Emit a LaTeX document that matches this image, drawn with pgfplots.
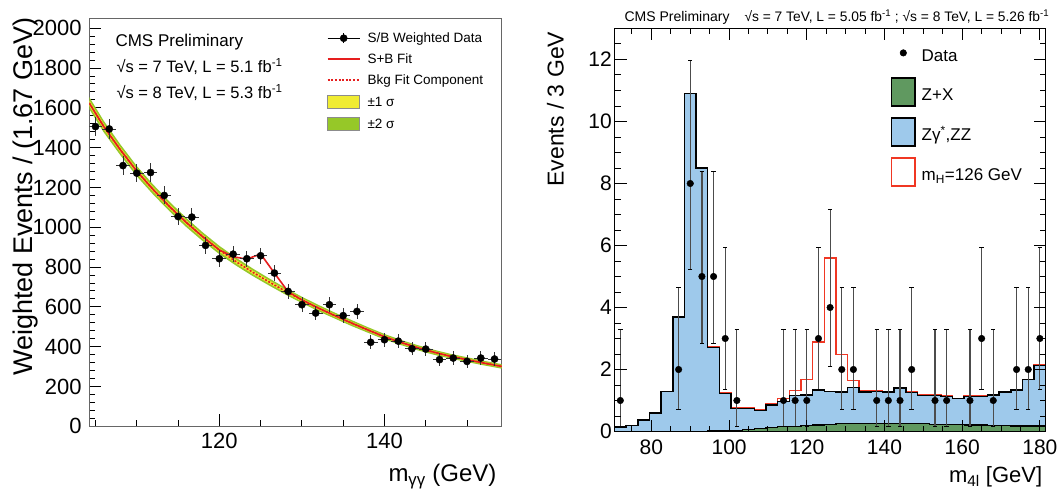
\documentclass[border=0pt]{standalone}
\usepackage{fontspec}
\setmainfont{Liberation Sans}
\usepackage{pgfplots}
\usepackage{pgfplotstable}
\pgfplotsset{compat=1.18}

\definecolor{bandone}{RGB}{240,236,50}
\definecolor{bandtwo}{RGB}{150,200,40}
\definecolor{fitred}{RGB}{230,30,30}
\definecolor{zzblue}{RGB}{158,201,235}
\definecolor{zxgreen}{RGB}{96,153,96}
\definecolor{hred}{RGB}{240,55,35}

% diphoton: fitted background component
\pgfplotstableread{
x g
104.25 1624
106 1506
108 1390
110 1282
112 1189
114 1103
116 1024
118 952
120 886
122 828
124 775
126 726
128 679
130 635
132 594
134 556
136 519
138 484
140 450
142 421
144 395
146 372
148 352
150 335
152 318
154.2 301
}\bkg

% diphoton: S/B weighted data
\pgfplotstableread{
x y ey
105.00 1506 48
106.67 1494 48
108.33 1310 48
110.00 1272 47
111.67 1275 46
113.33 1160 45
115.00 1054 44
116.67 1051 44
118.33 909 43
120.00 842 42
121.67 865 41
123.33 842 40
125.00 857 40
126.67 770 39
128.33 678 38
130.00 611 38
131.67 569 37
133.33 611 37
135.00 556 36
136.67 577 36
138.33 422 35
140.00 435 35
141.67 428 34
143.33 390 34
145.00 388 34
146.67 335 33
148.33 343 33
150.00 326 33
151.67 343 33
153.33 338 33
}\ggdata

% four-lepton: stacked histogram, bin low edges
\pgfplotstableread{
x tot sig zx
70.5 0.15 0.15 0.005
73.5 0.19 0.19 0.005
76.5 0.37 0.37 0.005
79.5 0.60 0.60 0.005
82.5 1.29 1.29 0.005
85.5 3.70 3.70 0.01
88.5 10.90 10.90 0.01
91.5 8.50 8.50 0.01
94.5 2.71 2.72 0.02
97.5 1.23 1.25 0.02
100.5 0.75 0.78 0.04
103.5 0.75 0.77 0.06
106.5 0.67 0.70 0.09
109.5 0.86 0.91 0.12
112.5 0.97 1.07 0.15
115.5 1.16 1.32 0.17
118.5 1.18 1.67 0.19
121.5 1.34 2.88 0.21
124.5 1.29 5.60 0.23
127.5 1.27 2.48 0.25
130.5 1.42 1.65 0.26
133.5 1.27 1.32 0.27
136.5 1.29 1.32 0.27
139.5 1.27 1.29 0.27
142.5 1.40 1.41 0.26
145.5 1.26 1.28 0.26
148.5 1.16 1.17 0.25
151.5 1.16 1.17 0.23
154.5 1.13 1.14 0.22
157.5 1.06 1.07 0.22
160.5 1.13 1.16 0.21
163.5 1.13 1.14 0.21
166.5 1.18 1.19 0.20
169.5 1.27 1.28 0.19
172.5 1.34 1.35 0.18
175.5 1.67 1.68 0.18
178.5 2.13 2.14 0.18
181.5 2.13 2.14 0.18
}\hist

% four-lepton: data with Poisson errors
\pgfplotstableread{
x y em ep
72 1 0.83 2.30
87 2 1.29 2.64
90 8 2.77 3.98
93 5 2.16 3.38
96 5 2.16 3.38
99 3 1.63 2.92
102 1 0.83 2.30
114 1 0.83 2.30
117 1 0.83 2.30
120 1 0.83 2.30
123 3 1.63 2.92
126 4 1.91 3.16
129 2 1.29 2.64
132 2 1.29 2.64
138 1 0.83 2.30
141 1 0.83 2.30
144 1 0.83 2.30
147 2 1.29 2.64
153 1 0.83 2.30
156 1 0.83 2.30
162 1 0.83 2.30
165 3 1.63 2.92
168 1 0.83 2.30
174 2 1.29 2.64
177 2 1.29 2.64
180 3 1.63 2.92
}\hdata

\begin{document}
\begin{tikzpicture}[x=1pt,y=1pt]
\useasboundingbox (0,0) rectangle (1059,488);

\begin{axis}[
 at={(89.3pt,61.7pt)},anchor=south west,scale only axis,
 width=412.4pt,height=408pt,
 xmin=104.25,xmax=154.2,ymin=0,ymax=2050,
 xtick={120,140},minor xtick={105,110,115,125,130,135,145,150},
 ytick={0,200,...,2000},minor y tick num=4,
 tick pos=left,tick align=inside,
 major tick length=12pt,minor tick length=6pt,
 axis line style={draw=black!60,line width=1.5pt},
 tick style={black,line width=1pt},
 tick label style={font=\fontsize{22}{26}\selectfont},
 /pgf/number format/assume math mode=true,
 /pgf/number format/1000 sep={},
 yticklabel style={inner sep=0pt,xshift=-7.5pt},
 xticklabel style={inner sep=0pt,yshift=-7pt},
 legend cell align=left,
 legend style={at={(axis description cs:0.5757,0.9676)},anchor=north west,
  draw=none,fill=none,inner sep=0pt,row sep=8pt,column sep=7pt,
  nodes={inner sep=0pt},font=\fontsize{13.5}{15}\selectfont},
]
\addlegendimage{legend image code/.code={
 \path[draw=none,fill=none] (0pt,-6.5pt) rectangle (32pt,6.5pt);
 \draw[black,line width=0.8pt] (0pt,0pt) -- (32pt,0pt);
 \draw[black,line width=0.8pt] (16pt,-5pt) -- (16pt,5pt);
 \fill[black] (16pt,0pt) circle (3.6pt);}}
\addlegendentry{\rule[-2pt]{0pt}{13pt}S/B Weighted Data}
\addlegendimage{legend image code/.code={
 \path[draw=none,fill=none] (0pt,-6.5pt) rectangle (32pt,6.5pt);
 \draw[fitred,line width=1.6pt] (0pt,0pt) -- (32pt,0pt);}}
\addlegendentry{\rule[-2pt]{0pt}{13pt}S+B Fit}
\addlegendimage{legend image code/.code={
 \path[draw=none,fill=none] (0pt,-6.5pt) rectangle (32pt,6.5pt);
 \draw[fitred,line width=1.6pt,dash pattern=on 2pt off 1.6pt] (0pt,0pt) -- (32pt,0pt);}}
\addlegendentry{\rule[-2pt]{0pt}{13pt}Bkg Fit Component}
\addlegendimage{legend image code/.code={
 \draw[fill=bandone,draw=black!45,line width=0.8pt] (0pt,-6.5pt) rectangle (32pt,6.5pt);}}
\addlegendentry{\rule[-2pt]{0pt}{13pt}±1 σ}
\addlegendimage{legend image code/.code={
 \draw[fill=bandtwo,draw=black!45,line width=0.8pt] (0pt,-6.5pt) rectangle (32pt,6.5pt);}}
\addlegendentry{\rule[-2pt]{0pt}{13pt}±2 σ}

% +-2 sigma band: upper edge forward, lower edge back
\addplot[fill=bandtwo,draw=none,forget plot] coordinates {
 (104.25,1654)(106,1535)(108,1417)(110,1308)(112,1214)(114,1127)(116,1047)
 (118,974)(120,907)(122,848)(124,794)(126,744)(128,696)(130,651)(132,610)
 (134,571)(136,534)(138,498)(140,464)(142,434)(144,408)(146,384.5)
 (148,364)(150,347)(152,329.5)(154.2,312.5)
 (154.2,289.5)(152,306.5)(150,323)(148,340)(146,359.5)(144,382)(142,408)
 (140,436)(138,470)(136,504)(134,541)(132,578)(130,619)(128,662)
 (126,708)(124,756)(122,808)(120,865)(118,930)(116,1001)(114,1079)(112,1164)
 (110,1256)(108,1363)(106,1477)(104.25,1594)};
% +-1 sigma band
\addplot[fill=bandone,draw=none,forget plot] coordinates {
 (104.25,1638)(106,1519.5)(108,1402.5)(110,1294)(112,1200.5)(114,1114)(116,1034.5)
 (118,962)(120,895.5)(122,837)(124,783.5)(126,734)(128,686.75)(130,642.5)(132,601.25)
 (134,563)(136,525.75)(138,490.5)(140,456.25)(142,427)(144,401)(146,377.75)
 (148,357.5)(150,340.5)(152,323.25)(154.2,306.25)
 (154.2,295.75)(152,312.75)(150,329.5)(148,346.5)(146,366.25)(144,389)(142,415)
 (140,443.75)(138,477.5)(136,512.25)(134,549)(132,586.75)(130,627.5)(128,671.25)
 (126,718)(124,766.5)(122,819)(120,876.5)(118,942)(116,1013.5)(114,1092)(112,1177.5)
 (110,1270)(108,1377.5)(106,1492.5)(104.25,1610)};
\addplot[fitred,line width=1.6pt,dash pattern=on 2pt off 1.6pt,forget plot] table[x=x,y=g]{\bkg};
\addplot[fitred,line width=1.6pt,forget plot] coordinates {
 (104.25,1624)(106,1506)(108,1390)(110,1282)(112,1189)(114,1103)(116,1024)
 (118,952)(120,886)(121.67,852)(123.33,840)(125,866)(126.67,770)(128.33,676)
 (130,635)(132,594)(134,556)(136,519)(138,484)(140,450)(142,421)(144,395)
 (146,372)(148,352)(150,335)(152,318)(154.2,301)};
\addplot[only marks,mark=*,mark size=3.6pt,black,forget plot,
 error bars/.cd,x dir=both,x fixed=0.833,y dir=both,y explicit,
 error mark=none,error bar style={line width=0.8pt,black!80}]
 table[x=x,y=y,y error=ey]{\ggdata};
\end{axis}

\begin{axis}[
 at={(614.5pt,56.5pt)},anchor=south west,scale only axis,
 width=431.2pt,height=403pt,
 xmin=70.5,xmax=181.5,ymin=0,ymax=13,
 xtick={80,100,...,180},
 minor xtick={75,85,90,95,105,110,115,125,130,135,145,150,155,165,170,175},
 ytick={0,2,...,12},minor ytick={0,0.5,...,13},
 tick pos=both,tick align=inside,axis on top,
 major tick length=12pt,minor tick length=6pt,
 axis line style={black,line width=1.5pt},
 tick style={black,line width=1pt},
 tick label style={font=\fontsize{21}{25}\selectfont},
 /pgf/number format/assume math mode=true,
 yticklabel style={inner sep=0pt,xshift=-2.6pt},
 xticklabel style={inner sep=0pt,yshift=-8pt},
 legend cell align=left,
 legend style={at={(axis description cs:0.6405,0.9747)},anchor=north west,
  draw=none,fill=none,inner sep=0pt,row sep=10.5pt,column sep=6pt,
  nodes={inner sep=0pt},font=\fontsize{17}{20}\selectfont},
]
\addlegendimage{legend image code/.code={
 \path[draw=none,fill=none] (0pt,-14pt) rectangle (23.3pt,14pt);
 \fill[black] (11.65pt,0pt) circle (3.3pt);}}
\addlegendentry{\rule[-7pt]{0pt}{26pt}Data}
\addlegendimage{legend image code/.code={
 \draw[fill=zxgreen,draw=black,line width=1.5pt] (0pt,-14pt) rectangle (23.3pt,14pt);}}
\addlegendentry{\rule[-7pt]{0pt}{26pt}Z+X}
\addlegendimage{legend image code/.code={
 \draw[fill=zzblue,draw=black,line width=1.5pt] (0pt,-14pt) rectangle (23.3pt,14pt);}}
\addlegendentry{\rule[-7pt]{0pt}{26pt}Zγ\textsuperscript{*},ZZ}
\addlegendimage{legend image code/.code={
 \draw[fill=white,draw=hred,line width=1.5pt] (0pt,-14pt) rectangle (23.3pt,14pt);}}
\addlegendentry{\rule[-7pt]{0pt}{26pt}m\textsubscript{H}=126 GeV}

\addplot[const plot mark left,draw=hred,line width=1.5pt,forget plot]
 table[x=x,y=sig]{\hist};
\addplot[const plot mark left,fill=zzblue,draw=black,line width=1.5pt,forget plot]
 table[x=x,y=tot]{\hist} \closedcycle;
\addplot[const plot mark left,fill=zxgreen,draw=black,line width=1.2pt,forget plot]
 table[x=x,y=zx]{\hist} \closedcycle;
\addplot[only marks,mark=*,mark size=3.3pt,black,forget plot,
 error bars/.cd,y dir=both,y explicit,error mark=|,
 error bar style={line width=1.2pt,black!70},
 error mark options={black,line width=1pt,mark size=2.2pt}]
 table[x=x,y=y,y error plus=ep,y error minus=em]{\hdata};
\end{axis}

% left panel texts
\node[rotate=90,anchor=base,font=\fontsize{27}{30}\selectfont] at (32.7,291.3) {Weighted Events / (1.67 GeV)};
\node[anchor=base east,font=\fontsize{24}{28}\selectfont] at (500,6.3) {m\textsubscript{γγ} (GeV)};
\node[anchor=base west,font=\fontsize{17}{20}\selectfont] at (112,441.3) {CMS Preliminary};
\node[anchor=base west,font=\fontsize{16.5}{20}\selectfont] at (113,415) {√s = 7 TeV, L = 5.1 fb\textsuperscript{-1}};
\node[anchor=base west,font=\fontsize{16.5}{20}\selectfont] at (113,389) {√s = 8 TeV, L = 5.3 fb\textsuperscript{-1}};

% right panel texts
\node[rotate=90,anchor=base,font=\fontsize{23}{27}\selectfont] at (563.6,378.8) {Events / 3 GeV};
\node[anchor=base east,font=\fontsize{22}{26}\selectfont] at (1045.7,6) {m\textsubscript{4l} [GeV]};
\node[anchor=base west,font=\fontsize{14}{17}\selectfont] at (621,466.3) {CMS Preliminary};
\node[anchor=base west,font=\fontsize{13.8}{17}\selectfont] at (741,466.3) {√s = 7 TeV, L = 5.05 fb\textsuperscript{-1} ; √s = 8 TeV, L = 5.26 fb\textsuperscript{-1}};
\end{tikzpicture}
\end{document}
